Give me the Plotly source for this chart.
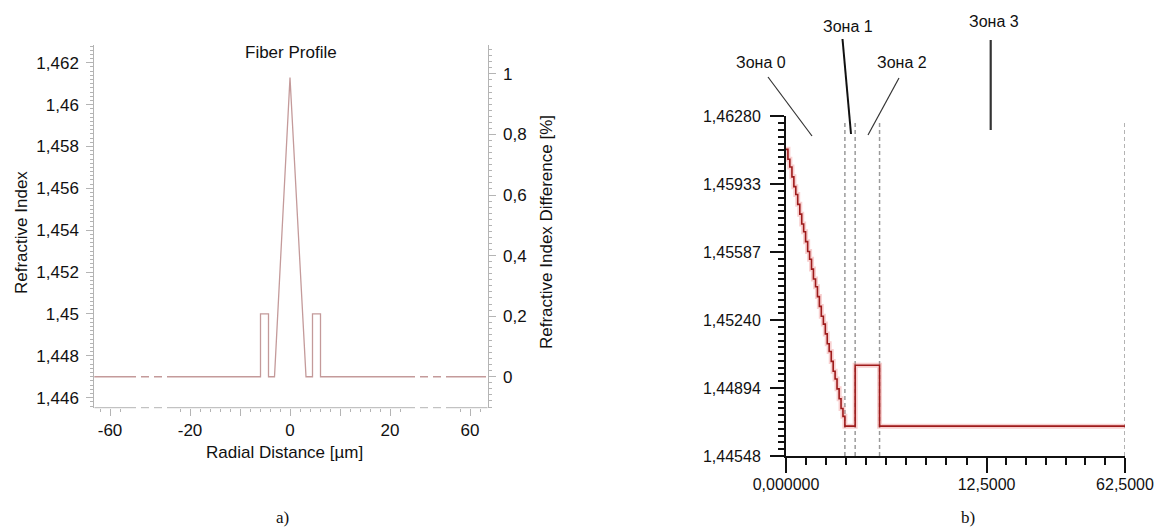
import math
import plotly.graph_objects as go

W, H = 1157, 529
FONT = "Liberation Sans, Arial, sans-serif"

# ---------------- (a) fiber refractive-index profile ----------------
core_r = [-5.9, -5.9, -4.3, -4.3, -3.1, 0.0, 3.2, 4.5, 4.5, 6.1, 6.1]   # µm
core_n = [1.447, 1.450, 1.450, 1.447, 1.447, 1.4613, 1.447, 1.447, 1.450, 1.450, 1.447]
n_clad = 1.447
r_edge = 68.0
r_break = [28.5, 51.0]          # compressed part of the radial axis, drawn dashed

a_yticks = [1.446, 1.448, 1.450, 1.452, 1.454, 1.456, 1.458, 1.460, 1.462]
a_ylabels = ["1,446", "1,448", "1,45", "1,452", "1,454", "1,456", "1,458", "1,46", "1,462"]
a_y2ticks = [0, 0.2, 0.4, 0.6, 0.8, 1.0]
a_y2labels = ["0", "0,2", "0,4", "0,6", "0,8", "1"]
a_xticks = [-60, -20, -10, 0, 10, 20, 60]
a_xlabels = ["-60", "-20", "", "0", "", "20", "60"]

# ---------------- (b) discretised profile split into zones ----------------
stair_r = [0.00, 0.12, 0.24, 0.37, 0.49, 0.61, 0.73, 0.86, 0.98, 1.10,
           1.22, 1.35, 1.47, 1.59, 1.71, 1.84, 1.96, 2.08, 2.20, 2.33,
           2.45, 2.57, 2.69, 2.82, 2.94, 3.06, 3.18, 3.31, 3.43, 3.55]
stair_n = [1.4611, 1.4606, 1.4602, 1.4597, 1.4592, 1.4588, 1.4583, 1.4578, 1.4573, 1.4569,
           1.4564, 1.4559, 1.4555, 1.4550, 1.4545, 1.4541, 1.4536, 1.4531, 1.4526, 1.4522,
           1.4517, 1.4512, 1.4508, 1.4503, 1.4498, 1.4494, 1.4489, 1.4484, 1.4479, 1.4475]
tail_r = [3.67, 4.31, 5.83, 62.5]
tail_n = [1.4470, 1.4501, 1.4470, 1.4470]
zone_edges = [3.67, 4.31, 5.83, 62.5]
zone_names = ["Зона 0", "Зона 1", "Зона 2", "Зона 3"]
b_yticks = [1.44548, 1.44894, 1.45240, 1.45587, 1.45933, 1.46280]
b_xticks = [0.0, 12.5, 62.5]
b_xlabels = ["0,000000", "12,5000", "62,5000"]


def squeeze_a(r):
    """Radial axis of (a): linear within ±20 µm, compressed outside."""
    a = abs(r)
    return r if a <= 20 else math.copysign(20 + 0.4 * (a - 20), r)


def squeeze_b(r):
    """Radial axis of (b): linear up to 12.5 µm, compressed beyond."""
    return r if r <= 12.5 else 12.5 + (r - 12.5) * 0.1725


def rel_diff(n):
    """Relative index difference to the cladding, in %."""
    return (n - n_clad) / n_clad * 100


def px(x):
    return x / W


def py(y):
    return 1 - y / H


fig = go.Figure()

# ---- (a) traces ----
LINE_A = "#c49a9a"
b0, b1 = r_break
segments = [
    ([-r_edge, -b1], "solid"),
    ([-b1, -b0], "8px,5px"),
    ([b0, b1], "8px,5px"),
    ([b1, r_edge], "solid"),
]
for rr, dash in segments:
    fig.add_trace(go.Scatter(
        x=[squeeze_a(v) for v in rr], y=[n_clad, n_clad], mode="lines",
        line=dict(color=LINE_A, width=1.3, dash=dash), showlegend=False,
        xaxis="x", yaxis="y", hoverinfo="skip"))
main_r = [-b0] + core_r + [b0]
main_n = [n_clad] + core_n + [n_clad]
fig.add_trace(go.Scatter(
    x=[squeeze_a(v) for v in main_r], y=main_n, mode="lines",
    line=dict(color=LINE_A, width=1.3), showlegend=False,
    xaxis="x", yaxis="y"))
# same profile on the relative-difference scale (keeps the right axis alive)
fig.add_trace(go.Scatter(
    x=[squeeze_a(v) for v in main_r], y=[rel_diff(v) for v in main_n], mode="lines",
    line=dict(color="rgba(0,0,0,0)", width=0), showlegend=False,
    xaxis="x", yaxis="y2", hoverinfo="skip"))

# ---- (b) traces ----
b_r = stair_r + tail_r
b_n = stair_n + tail_n
b_u = [squeeze_b(v) for v in b_r]
fig.add_trace(go.Scatter(
    x=b_u, y=b_n, mode="lines", line=dict(color="rgba(235,120,120,0.35)", width=5, shape="hv"),
    showlegend=False, xaxis="x3", yaxis="y3", hoverinfo="skip"))
fig.add_trace(go.Scatter(
    x=b_u, y=b_n, mode="lines", line=dict(color="#9e1b1b", width=1.6, shape="hv"),
    showlegend=False, xaxis="x3", yaxis="y3"))

# ---- axis geometry ----
ya_range = [1.44552, 1.46285]
y2_range = [rel_diff(v) for v in ya_range]
xa_range = [-39.14, 39.54]
ya_dom = [py(407.7), py(45)]

GRAY = "#b4b4b4"
tickfont_a = dict(family=FONT, size=17, color="#111")
tickfont_b = dict(family=FONT, size=16, color="#111")

layout = dict(
    width=W, height=H, margin=dict(l=0, r=0, t=0, b=0, autoexpand=False),
    paper_bgcolor="white", plot_bgcolor="white", showlegend=False,
    xaxis=dict(
        domain=[px(94.3), px(487.7)], range=xa_range, anchor="y", automargin=False,
        showline=False, showgrid=False, zeroline=False,
        tickmode="array", tickvals=[squeeze_a(v) for v in a_xticks], ticktext=a_xlabels,
        ticks="outside", ticklen=7, tickcolor=GRAY, tickwidth=1,
        ticklabelstandoff=0, tickfont=tickfont_a,
        minor=dict(tickmode="array",
                   tickvals=[-38, -34, -22, -18, -16, -14, -12, -8, -6, -4, -2,
                             2, 4, 6, 8, 12, 14, 16, 18, 22, 34, 38],
                   ticks="outside", ticklen=3, tickcolor=GRAY, tickwidth=1),
    ),
    yaxis=dict(
        domain=ya_dom, range=ya_range, anchor="x", automargin=False,
        showline=True, linecolor=GRAY, linewidth=1, showgrid=False, zeroline=False,
        tickmode="array", tickvals=a_yticks, ticktext=a_ylabels,
        ticks="outside", ticklen=7, tickcolor=GRAY, tickwidth=1,
        ticklabelstandoff=4, tickfont=tickfont_a,
        minor=dict(dtick=0.0002, tick0=1.446, ticks="outside", ticklen=3,
                   tickcolor=GRAY, tickwidth=1),
    ),
    yaxis2=dict(
        overlaying="y", side="right", anchor="x", range=y2_range, automargin=False,
        showline=True, linecolor=GRAY, linewidth=1, showgrid=False, zeroline=False,
        tickmode="array", tickvals=a_y2ticks, ticktext=a_y2labels,
        ticks="outside", ticklen=7, tickcolor=GRAY, tickwidth=1,
        ticklabelstandoff=4, tickfont=tickfont_a,
        minor=dict(dtick=0.02, tick0=0, ticks="outside", ticklen=3,
                   tickcolor=GRAY, tickwidth=1),
    ),
    xaxis3=dict(
        domain=[px(786), px(1125)], range=[0, squeeze_b(62.5)], anchor="y3", automargin=False,
        showline=True, linecolor="#111", linewidth=2, showgrid=False, zeroline=False,
        tickmode="array", tickvals=[squeeze_b(v) for v in b_xticks], ticktext=b_xlabels,
        ticks="outside", ticklen=15, tickcolor="#111", tickwidth=2,
        ticklabelstandoff=-2, tickfont=tickfont_b,
        minor=dict(tickmode="array",
                   tickvals=[1.25 * k for k in range(1, 10)]
                   + [12.5 + 1.232 * k for k in range(1, 7)],
                   ticks="outside", ticklen=7, tickcolor="#111", tickwidth=1.5),
    ),
    yaxis3=dict(
        domain=[py(456), py(116)], range=[b_yticks[0], b_yticks[-1]], anchor="x3",
        automargin=False,
        showline=True, linecolor="#111", linewidth=2, showgrid=False, zeroline=False,
        tickmode="array", tickvals=b_yticks,
        ticktext=[f"{v:.5f}".replace(".", ",") for v in b_yticks],
        ticks="outside", ticklen=14, tickcolor="#111", tickwidth=2,
        ticklabelstandoff=6, tickfont=tickfont_b,
        minor=dict(dtick=(b_yticks[1] - b_yticks[0]) / 10, tick0=b_yticks[0],
                   ticks="outside", ticklen=6, tickcolor="#111", tickwidth=1.5),
    ),
)
fig.update_layout(**layout)

shapes = []
# bottom axis of (a), dashed across the compressed spans
u0, u1 = squeeze_a(b0), squeeze_a(b1)
for x0, x1, dash in [(xa_range[0], -u1, "solid"), (-u1, -u0, "8px,5px"), (-u0, u0, "solid"),
                     (u0, u1, "8px,5px"), (u1, xa_range[1], "solid")]:
    shapes.append(dict(type="line", xref="x", yref="paper", x0=x0, x1=x1,
                       y0=ya_dom[0], y1=ya_dom[0], line=dict(color=GRAY, width=1, dash=dash)))

# zone boundaries of (b)
for e in zone_edges:
    shapes.append(dict(type="line", xref="x3", yref="y3", x0=squeeze_b(e), x1=squeeze_b(e),
                       y0=b_yticks[0], y1=1.4626, layer="below",
                       line=dict(color="#9a9a9a", width=1.5, dash="4px,3px")))

# leader lines from the zone labels
leaders = [((768, 77), (812, 136), 1.2, "#333"),
           ((842.5, 39), (851, 134), 2.0, "#111"),
           ((899, 78), (868, 135), 1.2, "#333"),
           ((990.7, 40), (990.7, 130), 2.2, "#333")]
for (x0, y0), (x1, y1), w, c in leaders:
    shapes.append(dict(type="line", xref="paper", yref="paper",
                       x0=px(x0), y0=py(y0), x1=px(x1), y1=py(y1), line=dict(color=c, width=w)))
fig.update_layout(shapes=shapes)

ann = []


def text(x, y, s, size=17, angle=0, family=FONT):
    ann.append(dict(xref="paper", yref="paper", x=px(x), y=py(y), text=s, showarrow=False,
                    textangle=angle, xanchor="center", yanchor="middle",
                    font=dict(family=family, size=size, color="#111")))


text(291, 53, "Fiber Profile")
text(21, 233, "Refractive Index", angle=-90)
text(547, 232, "Refractive Index Difference [%]", angle=-90)
text(284, 452, "Radial Distance [µm]")
for (x, y), name in zip([(761, 62), (848, 26), (902, 62), (994, 22)], zone_names):
    text(x, y, name, size=16)
serif = "Liberation Serif, DejaVu Serif, serif"
text(282, 517, "a)", size=17, family=serif)
text(968, 517, "b)", size=17, family=serif)
fig.update_layout(annotations=ann)

fig.write_html("out.html")
